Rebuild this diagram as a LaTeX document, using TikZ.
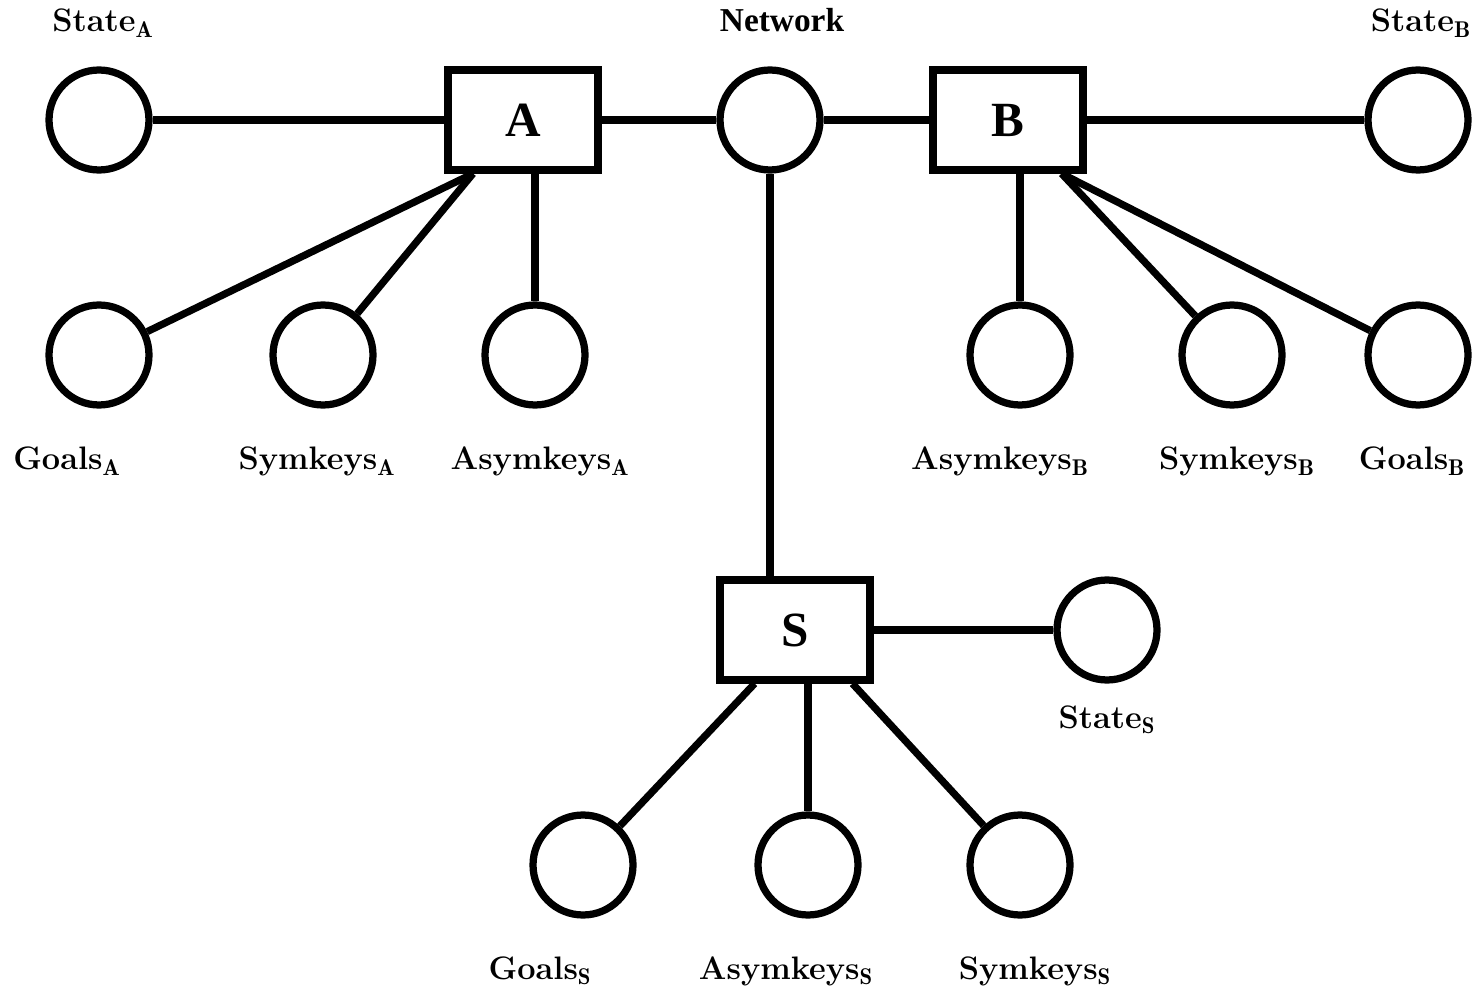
\documentclass[tikz,border=0pt]{standalone}
\usepackage{fontspec}
\newfontfamily\serifbold{Liberation Serif}
\begin{document}
\begin{tikzpicture}[x=0.02cm,y=-0.02cm,
  every path/.style={line width=0.145cm},
  state/.style={draw,circle,minimum size=2.0cm,inner sep=0pt,line width=0.145cm},
  agent/.style={draw,rectangle,minimum width=3.0cm,minimum height=2.0cm,inner sep=0pt,
    line width=0.145cm,font=\serifbold\bfseries\fontsize{28}{32}\selectfont},
  lbl/.style={anchor=base,inner sep=0pt,font=\fontsize{18.5}{22}\selectfont\bfseries},
  netlbl/.style={anchor=base,inner sep=0pt,font=\serifbold\bfseries\fontsize{19}{22}\selectfont}]
\useasboundingbox (0,0) rectangle (1477,989);

% principals and the network
\node[agent] (A) at (523,120) {A};
\node[agent] (B) at (1008,120) {B};
\node[agent] (S) at (795,630) {S};
\node[state] (net) at (770,120) {};

% state circles
\node[state] (stA) at (99,120) {};
\node[state] (stB) at (1418,120) {};
\node[state] (stS) at (1107,630) {};

% knowledge of A
\node[state] (gA) at (99,355) {};
\node[state] (sA) at (323,355) {};
\node[state] (aA) at (535,355) {};
% knowledge of B
\node[state] (aB) at (1020,355) {};
\node[state] (sB) at (1232,355) {};
\node[state] (gB) at (1418,355) {};
% knowledge of S
\node[state] (gS) at (583,865) {};
\node[state] (aS) at (808,865) {};
\node[state] (sS) at (1020,865) {};

% labels
\node[lbl] (lstA) at (103,32) {State$_\mathbf{A}$};
\node[netlbl] (lnet) at (782,32) {Network};
\node[lbl] (lstB) at (1421,32) {State$_\mathbf{B}$};
\node[lbl] (lgA) at (67,470) {Goals$_\mathbf{A}$};
\node[lbl] (lsA) at (317,470) {Symkeys$_\mathbf{A}$};
\node[lbl] (laA) at (540,470) {Asymkeys$_\mathbf{A}$};
\node[lbl] (laB) at (1000,470) {Asymkeys$_\mathbf{B}$};
\node[lbl] (lsB) at (1237,470) {Symkeys$_\mathbf{B}$};
\node[lbl] (lgB) at (1412,470) {Goals$_\mathbf{B}$};
\node[lbl] (lstS) at (1107,728) {State$_\mathbf{S}$};
\node[lbl] (lgS) at (540,979) {Goals$_\mathbf{S}$};
\node[lbl] (laS) at (786,979) {Asymkeys$_\mathbf{S}$};
\node[lbl] (lsS) at (1035,979) {Symkeys$_\mathbf{S}$};

% connectors
\draw (stA) -- (A);
\draw (A) -- (net);
\draw (net) -- (B);
\draw (B) -- (stB);
\draw (S) -- (stS);
\draw (net.south) -- (net.south |- S.north);

\draw (A.-133) -- (gA);
\draw (A.-133) -- (sA);
\draw (aA.north) -- (aA.north |- A.south);

\draw (aB.north) -- (aB.north |- B.south);
\draw (B.-45) -- (sB);
\draw (B.-45) -- (gB);

\draw (S.-127) -- (gS);
\draw (aS.north) -- (aS.north |- S.south);
\draw (S.-43) -- (sS);
\end{tikzpicture}
\end{document}
